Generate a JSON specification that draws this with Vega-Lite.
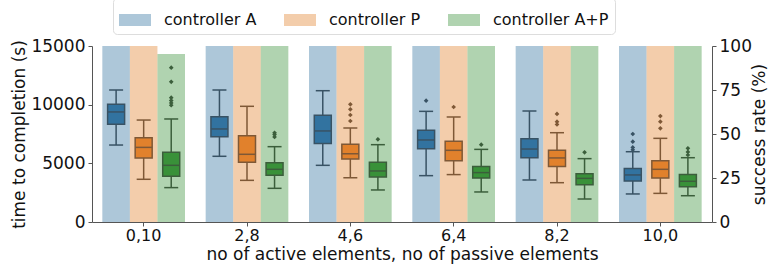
{
  "$schema": "https://vega.github.io/schema/vega-lite/v6.json",
  "autosize": {"type": "none"},
  "width": 620,
  "height": 176,
  "padding": {"left": 92, "top": 46, "right": 61, "bottom": 48},
  "background": "white",
  "config": {
    "view": {"stroke": null},
    "font": "DejaVu Sans",
    "axis": {
      "labelFont": "DejaVu Sans", "titleFont": "DejaVu Sans",
      "labelFontSize": 17, "titleFontSize": 17, "titleFontWeight": "normal",
      "labelColor": "#111111", "titleColor": "#111111",
      "domainColor": "#555555", "tickColor": "#555555",
      "tickSize": 4, "labelPadding": 3, "grid": false
    }
  },
  "datasets": {
    "boxes": [
      {"group": "0,10", "controller": "controller A", "lower": 6560, "q1": 8330, "median": 9380, "q3": 10030, "upper": 11250},
      {"group": "0,10", "controller": "controller P", "lower": 3640, "q1": 5460, "median": 6360, "q3": 7190, "upper": 8690},
      {"group": "0,10", "controller": "controller A+P", "lower": 2930, "q1": 3890, "median": 4830, "q3": 5940, "upper": 8780},
      {"group": "2,8", "controller": "controller A", "lower": 5600, "q1": 7270, "median": 7930, "q3": 8980, "upper": 11250},
      {"group": "2,8", "controller": "controller P", "lower": 3550, "q1": 5090, "median": 5770, "q3": 7360, "upper": 9860},
      {"group": "2,8", "controller": "controller A+P", "lower": 2870, "q1": 3980, "median": 4490, "q3": 5060, "upper": 6420},
      {"group": "4,6", "controller": "controller A", "lower": 4830, "q1": 6680, "median": 7760, "q3": 9090, "upper": 11190},
      {"group": "4,6", "controller": "controller P", "lower": 3780, "q1": 5370, "median": 5820, "q3": 6620, "upper": 8010},
      {"group": "4,6", "controller": "controller A+P", "lower": 2730, "q1": 3840, "median": 4350, "q3": 5090, "upper": 6590},
      {"group": "6,4", "controller": "controller A", "lower": 3950, "q1": 6250, "median": 6990, "q3": 7810, "upper": 9430},
      {"group": "6,4", "controller": "controller P", "lower": 4040, "q1": 5230, "median": 6110, "q3": 6880, "upper": 8950},
      {"group": "6,4", "controller": "controller A+P", "lower": 2560, "q1": 3750, "median": 4210, "q3": 4740, "upper": 6190},
      {"group": "8,2", "controller": "controller A", "lower": 3580, "q1": 5480, "median": 6220, "q3": 7100, "upper": 9460},
      {"group": "8,2", "controller": "controller P", "lower": 3350, "q1": 4740, "median": 5460, "q3": 6110, "upper": 7610},
      {"group": "8,2", "controller": "controller A+P", "lower": 1960, "q1": 3180, "median": 3720, "q3": 4120, "upper": 5400},
      {"group": "10,0", "controller": "controller A", "lower": 2390, "q1": 3490, "median": 4010, "q3": 4570, "upper": 5990},
      {"group": "10,0", "controller": "controller P", "lower": 2440, "q1": 3750, "median": 4490, "q3": 5230, "upper": 7130},
      {"group": "10,0", "controller": "controller A+P", "lower": 2240, "q1": 3010, "median": 3470, "q3": 4040, "upper": 5480}
    ],
    "outliers": [
      {"group": "0,10", "controller": "controller A+P", "value": 9950},
      {"group": "0,10", "controller": "controller A+P", "value": 10150},
      {"group": "0,10", "controller": "controller A+P", "value": 10350},
      {"group": "0,10", "controller": "controller A+P", "value": 10600},
      {"group": "0,10", "controller": "controller A+P", "value": 11950},
      {"group": "0,10", "controller": "controller A+P", "value": 13150},
      {"group": "2,8", "controller": "controller A+P", "value": 7250},
      {"group": "2,8", "controller": "controller A+P", "value": 7450},
      {"group": "2,8", "controller": "controller A+P", "value": 7600},
      {"group": "4,6", "controller": "controller P", "value": 8610},
      {"group": "4,6", "controller": "controller P", "value": 9120},
      {"group": "4,6", "controller": "controller P", "value": 9600},
      {"group": "4,6", "controller": "controller P", "value": 10030},
      {"group": "4,6", "controller": "controller A+P", "value": 7050},
      {"group": "6,4", "controller": "controller A", "value": 10340},
      {"group": "6,4", "controller": "controller P", "value": 9800},
      {"group": "6,4", "controller": "controller A+P", "value": 6590},
      {"group": "8,2", "controller": "controller P", "value": 8320},
      {"group": "8,2", "controller": "controller P", "value": 8550},
      {"group": "8,2", "controller": "controller P", "value": 9210},
      {"group": "8,2", "controller": "controller A+P", "value": 5940},
      {"group": "10,0", "controller": "controller A", "value": 6150},
      {"group": "10,0", "controller": "controller A", "value": 6360},
      {"group": "10,0", "controller": "controller A", "value": 6850},
      {"group": "10,0", "controller": "controller A", "value": 7500},
      {"group": "10,0", "controller": "controller P", "value": 7980},
      {"group": "10,0", "controller": "controller P", "value": 8550},
      {"group": "10,0", "controller": "controller P", "value": 9030},
      {"group": "10,0", "controller": "controller A+P", "value": 5710},
      {"group": "10,0", "controller": "controller A+P", "value": 5970},
      {"group": "10,0", "controller": "controller A+P", "value": 6280}
    ],
    "success": [
      {"group": "0,10", "controller": "controller A", "rate": 100},
      {"group": "0,10", "controller": "controller P", "rate": 100},
      {"group": "0,10", "controller": "controller A+P", "rate": 95.5},
      {"group": "2,8", "controller": "controller A", "rate": 100},
      {"group": "2,8", "controller": "controller P", "rate": 100},
      {"group": "2,8", "controller": "controller A+P", "rate": 100},
      {"group": "4,6", "controller": "controller A", "rate": 100},
      {"group": "4,6", "controller": "controller P", "rate": 100},
      {"group": "4,6", "controller": "controller A+P", "rate": 100},
      {"group": "6,4", "controller": "controller A", "rate": 100},
      {"group": "6,4", "controller": "controller P", "rate": 100},
      {"group": "6,4", "controller": "controller A+P", "rate": 100},
      {"group": "8,2", "controller": "controller A", "rate": 100},
      {"group": "8,2", "controller": "controller P", "rate": 100},
      {"group": "8,2", "controller": "controller A+P", "rate": 100},
      {"group": "10,0", "controller": "controller A", "rate": 100},
      {"group": "10,0", "controller": "controller P", "rate": 100},
      {"group": "10,0", "controller": "controller A+P", "rate": 100}
    ]
  },
  "encoding": {
    "x": {
      "field": "group", "type": "nominal",
      "sort": ["0,10", "2,8", "4,6", "6,4", "8,2", "10,0"],
      "scale": {"paddingInner": 0.2, "paddingOuter": 0.1},
      "axis": {"title": "no of active elements, no of passive elements", "labelAngle": 0, "labelFontSize": 16, "labelPadding": 1, "titlePadding": 3}
    },
    "xOffset": {
      "field": "controller", "type": "nominal",
      "sort": ["controller A", "controller P", "controller A+P"],
      "scale": {"paddingInner": 0, "paddingOuter": 0}
    }
  },
  "layer": [
    {
      "layer": [
        {
          "data": {"name": "boxes"},
          "mark": {"type": "rule", "color": "#3d3d3d", "strokeWidth": 1.5},
          "encoding": {
            "y": {"field": "lower", "type": "quantitative", "scale": {"domain": [0, 15000], "nice": false},
                  "axis": {"title": "time to completion (s)", "orient": "left", "values": [0, 5000, 10000, 15000], "format": "d", "titlePadding": 2}},
            "y2": {"field": "upper"}
          }
        },
        {
          "data": {"name": "boxes"},
          "mark": {"type": "tick", "color": "#3d3d3d", "size": 14, "thickness": 1.5, "opacity": 1},
          "encoding": {"y": {"field": "lower", "type": "quantitative"}}
        },
        {
          "data": {"name": "boxes"},
          "mark": {"type": "tick", "color": "#3d3d3d", "size": 14, "thickness": 1.5, "opacity": 1},
          "encoding": {"y": {"field": "upper", "type": "quantitative"}}
        },
        {
          "data": {"name": "boxes"},
          "mark": {"type": "bar", "width": 17, "stroke": "#3d3d3d", "strokeWidth": 1.5},
          "encoding": {
            "y": {"field": "q1", "type": "quantitative"},
            "y2": {"field": "q3"},
            "color": {"field": "controller", "type": "nominal"}
          }
        },
        {
          "data": {"name": "boxes"},
          "mark": {"type": "tick", "color": "#3d3d3d", "size": 17, "thickness": 1.5, "opacity": 1},
          "encoding": {"y": {"field": "median", "type": "quantitative"}}
        },
        {
          "data": {"name": "outliers"},
          "mark": {"type": "point", "shape": "diamond", "filled": true, "color": "#3d3d3d", "size": 22, "opacity": 1},
          "encoding": {"y": {"field": "value", "type": "quantitative"}}
        }
      ]
    },
    {
      "data": {"name": "success"},
      "mark": {"type": "bar", "opacity": 0.4},
      "encoding": {
        "y": {"field": "rate", "type": "quantitative", "scale": {"domain": [0, 100], "nice": false},
              "axis": {"title": "success rate (%)", "orient": "right", "values": [0, 25, 50, 75, 100], "titleAngle": 270, "titleBaseline": "top", "titlePadding": 0}},
        "color": {
          "field": "controller", "type": "nominal",
          "scale": {"domain": ["controller A", "controller P", "controller A+P"], "range": ["#3274a1", "#e1812c", "#3a923a"]},
          "legend": {
            "title": null, "orient": "none", "direction": "horizontal",
            "legendX": 21, "legendY": -48,
            "symbolType": "M-1,-0.375H1V0.375H-1Z", "symbolSize": 1024,
            "symbolOpacity": 0.4, "symbolStrokeWidth": 0,
            "labelFont": "DejaVu Sans", "labelFontSize": 16, "labelColor": "#111111",
            "labelOffset": 13, "columnPadding": 27, "labelLimit": 300,
            "padding": 6, "strokeColor": "#dddddd", "cornerRadius": 4, "fillColor": "white",
            "encode": {"symbols": {"update": {"opacity": {"value": 0.4}, "fillOpacity": {"value": 1}}}}
          }
        }
      }
    }
  ],
  "resolve": {"scale": {"y": "independent"}, "axis": {"y": "independent"}}
}
